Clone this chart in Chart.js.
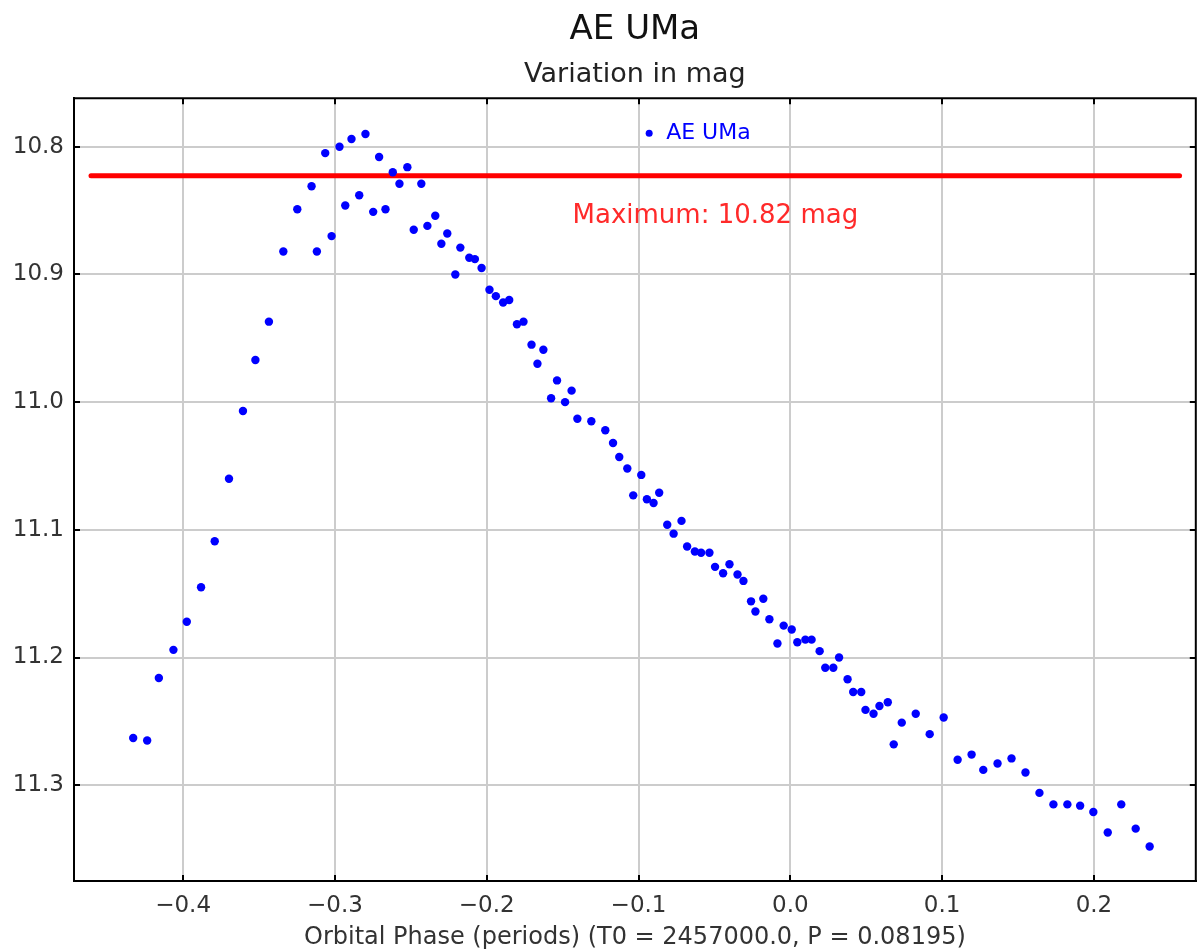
<!DOCTYPE html>
<html>
<head>
<meta charset="utf-8">
<title>AE UMa</title>
<script src="https://cdn.jsdelivr.net/npm/chart.js@4/dist/chart.umd.min.js"></script>
<style>
  html, body { margin: 0; padding: 0; background: #fff; }
  #wrap { width: 1200px; height: 952px; position: relative; }
</style>
</head>
<body>
<div id="wrap"><canvas id="chart"></canvas></div>
<script>
// Orbital phase of each observation (periods)
const phase = [
  -0.4329, -0.4237, -0.4160, -0.4064, -0.3976, -0.3882, -0.3792, -0.3698, -0.3606, -0.3524,
  -0.3435, -0.3340, -0.3248, -0.3154, -0.3119, -0.3064, -0.3022, -0.2970, -0.2932, -0.2891,
  -0.2840, -0.2799, -0.2748, -0.2709, -0.2667, -0.2619, -0.2575, -0.2523, -0.2481, -0.2431,
  -0.2391, -0.2339, -0.2299, -0.2260, -0.2207, -0.2174, -0.2115, -0.2078, -0.2034, -0.1982,
  -0.1940, -0.1892, -0.1852, -0.1801, -0.1758, -0.1705, -0.1666, -0.1627, -0.1576, -0.1537,
  -0.1484, -0.1441, -0.1403, -0.1311, -0.1219, -0.1168, -0.1127, -0.1074, -0.1035, -0.0982,
  -0.0945, -0.0901, -0.0864, -0.0811, -0.0769, -0.0717, -0.0680, -0.0629, -0.0588, -0.0533,
  -0.0496, -0.0443, -0.0401, -0.0348, -0.0309, -0.0259, -0.0230, -0.0178, -0.0138, -0.0085,
  -0.0044, 0.0009, 0.0046, 0.0099, 0.0140, 0.0193, 0.0230, 0.0283, 0.0321, 0.0377,
  0.0414, 0.0467, 0.0495, 0.0548, 0.0587, 0.0642, 0.0681, 0.0734, 0.0826, 0.0918,
  0.1010, 0.1102, 0.1194, 0.1271, 0.1365, 0.1457, 0.1549, 0.1641, 0.1733, 0.1825,
  0.1909, 0.1996, 0.2091, 0.2180, 0.2275, 0.2367
];

// Magnitude at each phase
const mag = [
  11.263, 11.265, 11.216, 11.194, 11.172, 11.145, 11.109, 11.060, 11.007, 10.967,
  10.937, 10.882, 10.849, 10.831, 10.882, 10.805, 10.870, 10.800, 10.846, 10.794,
  10.838, 10.790, 10.851, 10.808, 10.849, 10.820, 10.829, 10.816, 10.865, 10.829,
  10.862, 10.854, 10.876, 10.868, 10.900, 10.879, 10.887, 10.888, 10.895, 10.912,
  10.917, 10.922, 10.920, 10.939, 10.937, 10.955, 10.970, 10.959, 10.997, 10.983,
  11.000, 10.991, 11.013, 11.015, 11.022, 11.032, 11.043, 11.052, 11.073, 11.057,
  11.076, 11.079, 11.071, 11.096, 11.103, 11.093, 11.113, 11.117, 11.118, 11.118,
  11.129, 11.134, 11.127, 11.135, 11.140, 11.156, 11.164, 11.154, 11.170, 11.189,
  11.175, 11.178, 11.188, 11.186, 11.186, 11.195, 11.208, 11.208, 11.200, 11.217,
  11.227, 11.227, 11.241, 11.244, 11.238, 11.235, 11.268, 11.251, 11.244, 11.260,
  11.247, 11.280, 11.276, 11.288, 11.283, 11.279, 11.290, 11.306, 11.315, 11.315,
  11.316, 11.321, 11.337, 11.315, 11.334, 11.348
];

// Maximum brightness marker
const maxMag = 10.8227;
const maxLinePhase = [-0.4607, 0.2564];
const maxLabel = "Maximum: 10.82 mag";
const maxLabelAt = [-0.0494, 10.8547];

const starName = "AE UMa";
const legendAt = [-0.093, 10.7895];

// Axis extents
const xRange = [-0.4719, 0.2671];
const yRange = [10.762, 11.375];

Chart.defaults.font.family = "'DejaVu Sans', 'Noto Sans', sans-serif";

function fmtTick(value) {
  const s = Math.abs(value).toFixed(1);
  return value < -1e-9 ? "\u2212" + s : s;
}

// Frame on top/right and inward tick marks on all four sides
const framePlugin = {
  id: "frame",
  afterDraw(chart) {
    const { ctx, chartArea: a, scales } = chart;
    ctx.save();
    ctx.strokeStyle = "#000";
    ctx.lineWidth = 2;
    ctx.beginPath();
    ctx.moveTo(a.left, a.top);
    ctx.lineTo(a.right, a.top);
    ctx.lineTo(a.right, a.bottom);
    ctx.stroke();
    ctx.beginPath();
    scales.x.ticks.forEach((t) => {
      const px = Math.round(scales.x.getPixelForValue(t.value));
      ctx.moveTo(px, a.bottom);
      ctx.lineTo(px, a.bottom - 6);
      ctx.moveTo(px, a.top);
      ctx.lineTo(px, a.top + 6);
    });
    scales.y.ticks.forEach((t) => {
      const py = Math.round(scales.y.getPixelForValue(t.value));
      ctx.moveTo(a.left, py);
      ctx.lineTo(a.left + 6, py);
      ctx.moveTo(a.right, py);
      ctx.lineTo(a.right - 6, py);
    });
    ctx.stroke();
    ctx.restore();
  },
};

// In-plot legend and the "Maximum" label
const labelsPlugin = {
  id: "labels",
  afterDatasetsDraw(chart) {
    const { ctx, scales } = chart;
    ctx.save();
    const lx = scales.x.getPixelForValue(legendAt[0]);
    const ly = scales.y.getPixelForValue(legendAt[1]);
    ctx.fillStyle = "#0000ff";
    ctx.beginPath();
    ctx.arc(lx, ly, 3.5, 0, Math.PI * 2);
    ctx.fill();
    ctx.font = "22px 'DejaVu Sans'";
    ctx.textBaseline = "middle";
    ctx.textAlign = "left";
    ctx.fillText(starName, lx + 17, ly);

    ctx.fillStyle = "#ff2a2a";
    ctx.font = "26px 'DejaVu Sans'";
    ctx.textAlign = "center";
    ctx.fillText(maxLabel,
      scales.x.getPixelForValue(maxLabelAt[0]),
      scales.y.getPixelForValue(maxLabelAt[1]));
    ctx.restore();
  },
};

const points = phase.map((p, i) => ({ x: p, y: mag[i] }));
const maxLine = maxLinePhase.map((p) => ({ x: p, y: maxMag }));

new Chart(document.getElementById("chart"), {
  type: "scatter",
  data: {
    datasets: [
      {
        label: starName,
        data: points,
        backgroundColor: "#0000ff",
        borderWidth: 0,
        pointRadius: 4.2,
        order: 0,
      },
      {
        type: "line",
        label: "Maximum",
        data: maxLine,
        borderColor: "#ff0000",
        borderWidth: 5,
        borderCapStyle: "round",
        pointRadius: 0,
        order: 1,
      },
    ],
  },
  options: {
    responsive: true,
    maintainAspectRatio: false,
    animation: false,
    layout: { padding: { left: 0, right: 2, top: 0, bottom: 0 } },
    plugins: {
      legend: { display: false },
      tooltip: { enabled: false },
      title: {
        display: true,
        text: starName,
        color: "#111",
        fullSize: false,
        font: { size: 34, weight: "normal" },
        padding: { top: 10, bottom: 0 },
      },
      subtitle: {
        display: true,
        text: "Variation in mag",
        color: "#222",
        fullSize: false,
        font: { size: 27, weight: "normal" },
        padding: { top: 8, bottom: 7 },
      },
    },
    scales: {
      x: {
        type: "linear",
        position: "bottom",
        min: xRange[0],
        max: xRange[1],
        afterFit: (scale) => { scale.height = 71; },
        border: { display: true, color: "#000", width: 2 },
        grid: { color: "#cccccc", lineWidth: 2, drawTicks: false },
        ticks: {
          stepSize: 0.1,
          includeBounds: false,
          padding: 11,
          color: "#333",
          font: { size: 23 },
          maxRotation: 0,
          callback: fmtTick,
        },
        title: {
          display: true,
          text: "Orbital Phase (periods) (T0 = 2457000.0, P = 0.08195)",
          color: "#333",
          font: { size: 24 },
          padding: { top: 0, bottom: 0 },
        },
      },
      y: {
        type: "linear",
        position: "left",
        reverse: true,
        min: yRange[0],
        max: yRange[1],
        afterFit: (scale) => { scale.width = 74; },
        border: { display: true, color: "#000", width: 2 },
        grid: { color: "#cccccc", lineWidth: 2, drawTicks: false },
        ticks: {
          stepSize: 0.1,
          includeBounds: false,
          padding: 10,
          color: "#333",
          font: { size: 23 },
          callback: fmtTick,
        },
      },
    },
  },
  plugins: [framePlugin, labelsPlugin],
});
</script>
</body>
</html>
